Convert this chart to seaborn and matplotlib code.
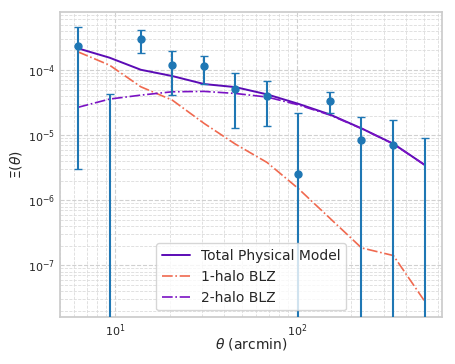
import numpy as np
import pandas as pd
import matplotlib
matplotlib.use("Agg")
import matplotlib.pyplot as plt
import seaborn as sns

theta = [6.26, 9.35, 13.9, 20.7, 31.0, 46.0, 68.7, 102.0, 152.0, 227.0, 340.0, 505.0]
xi_obs = [2.35e-4, -5e-6, 2.97e-4, 1.18e-4, 1.14e-4, 5.1e-5, 4.03e-5, 2.5e-6, 3.37e-5, 8.3e-6, 6.95e-6, -1e-6]
xi_err = [2.32e-4, 4.8e-5, 1.13e-4, 7.6e-5, 5.2e-5, 3.8e-5, 2.67e-5, 1.95e-5, 1.22e-5, 1.08e-5, 9.9e-6, 9.9e-6]
total_model = [2.16e-4, 1.55e-4, 1.01e-4, 8.09e-5, 6.09e-5, 5.47e-5, 4.23e-5, 3.03e-5, 2.08e-5, 1.27e-5, 7.36e-6, 3.49e-6]
one_halo = [1.91e-4, 1.19e-4, 5.53e-5, 3.45e-5, 1.51e-5, 7.28e-6, 3.8e-6, 1.51e-6, 5.3e-7, 1.85e-7, 1.41e-7, 2.8e-8]
two_halo = [2.67e-5, 3.58e-5, 4.12e-5, 4.64e-5, 4.7e-5, 4.37e-5, 3.85e-5, 2.92e-5, 2.04e-5, 1.26e-5, 7.3e-6, 3.48e-6]

df = pd.DataFrame({"theta": theta, "total": total_model, "one": one_halo, "two": two_halo})

sns.set_theme(style="whitegrid")
fig, ax = plt.subplots(figsize=(4.55, 3.64), dpi=100)
fig.subplots_adjust(left=0.132, right=0.972, top=0.967, bottom=0.128)

ax.set_xscale("log")
ax.set_yscale("log")

ax.errorbar(theta, xi_obs, yerr=xi_err, fmt="o", color="#1f77b4", ms=5,
            capsize=3, elinewidth=1.5, zorder=3)
sns.lineplot(data=df, x="theta", y="total", ax=ax, color="#5b0bb5", lw=1.4,
             label="Total Physical Model", zorder=2)
sns.lineplot(data=df, x="theta", y="one", ax=ax, color="#f0694f", lw=1.2,
             linestyle="-.", label="1-halo BLZ", zorder=2)
sns.lineplot(data=df, x="theta", y="two", ax=ax, color="#7a12c4", lw=1.2,
             linestyle="-.", label="2-halo BLZ", zorder=2)

ax.set_xlim(5.0, 631)
ax.set_ylim(1.58e-8, 7.8e-4)
ax.grid(True, which="major", linestyle="--", color="#d0d0d0", lw=0.8)
ax.grid(True, which="minor", linestyle="--", color="#dcdcdc", lw=0.6)
ax.tick_params(axis="both", which="both", length=0)
ax.tick_params(axis="both", which="major", labelsize=8, pad=3.5)
for s in ax.spines.values():
    s.set_color("#cccccc")

ax.set_xlabel(r"$\theta$ (arcmin)", fontsize=10, labelpad=-2)
ax.set_ylabel(r"$\Xi(\theta)$", fontsize=10, labelpad=3)
ax.legend(loc="lower center", fontsize=10, framealpha=0.8)

fig.savefig("out.png", dpi=100)
